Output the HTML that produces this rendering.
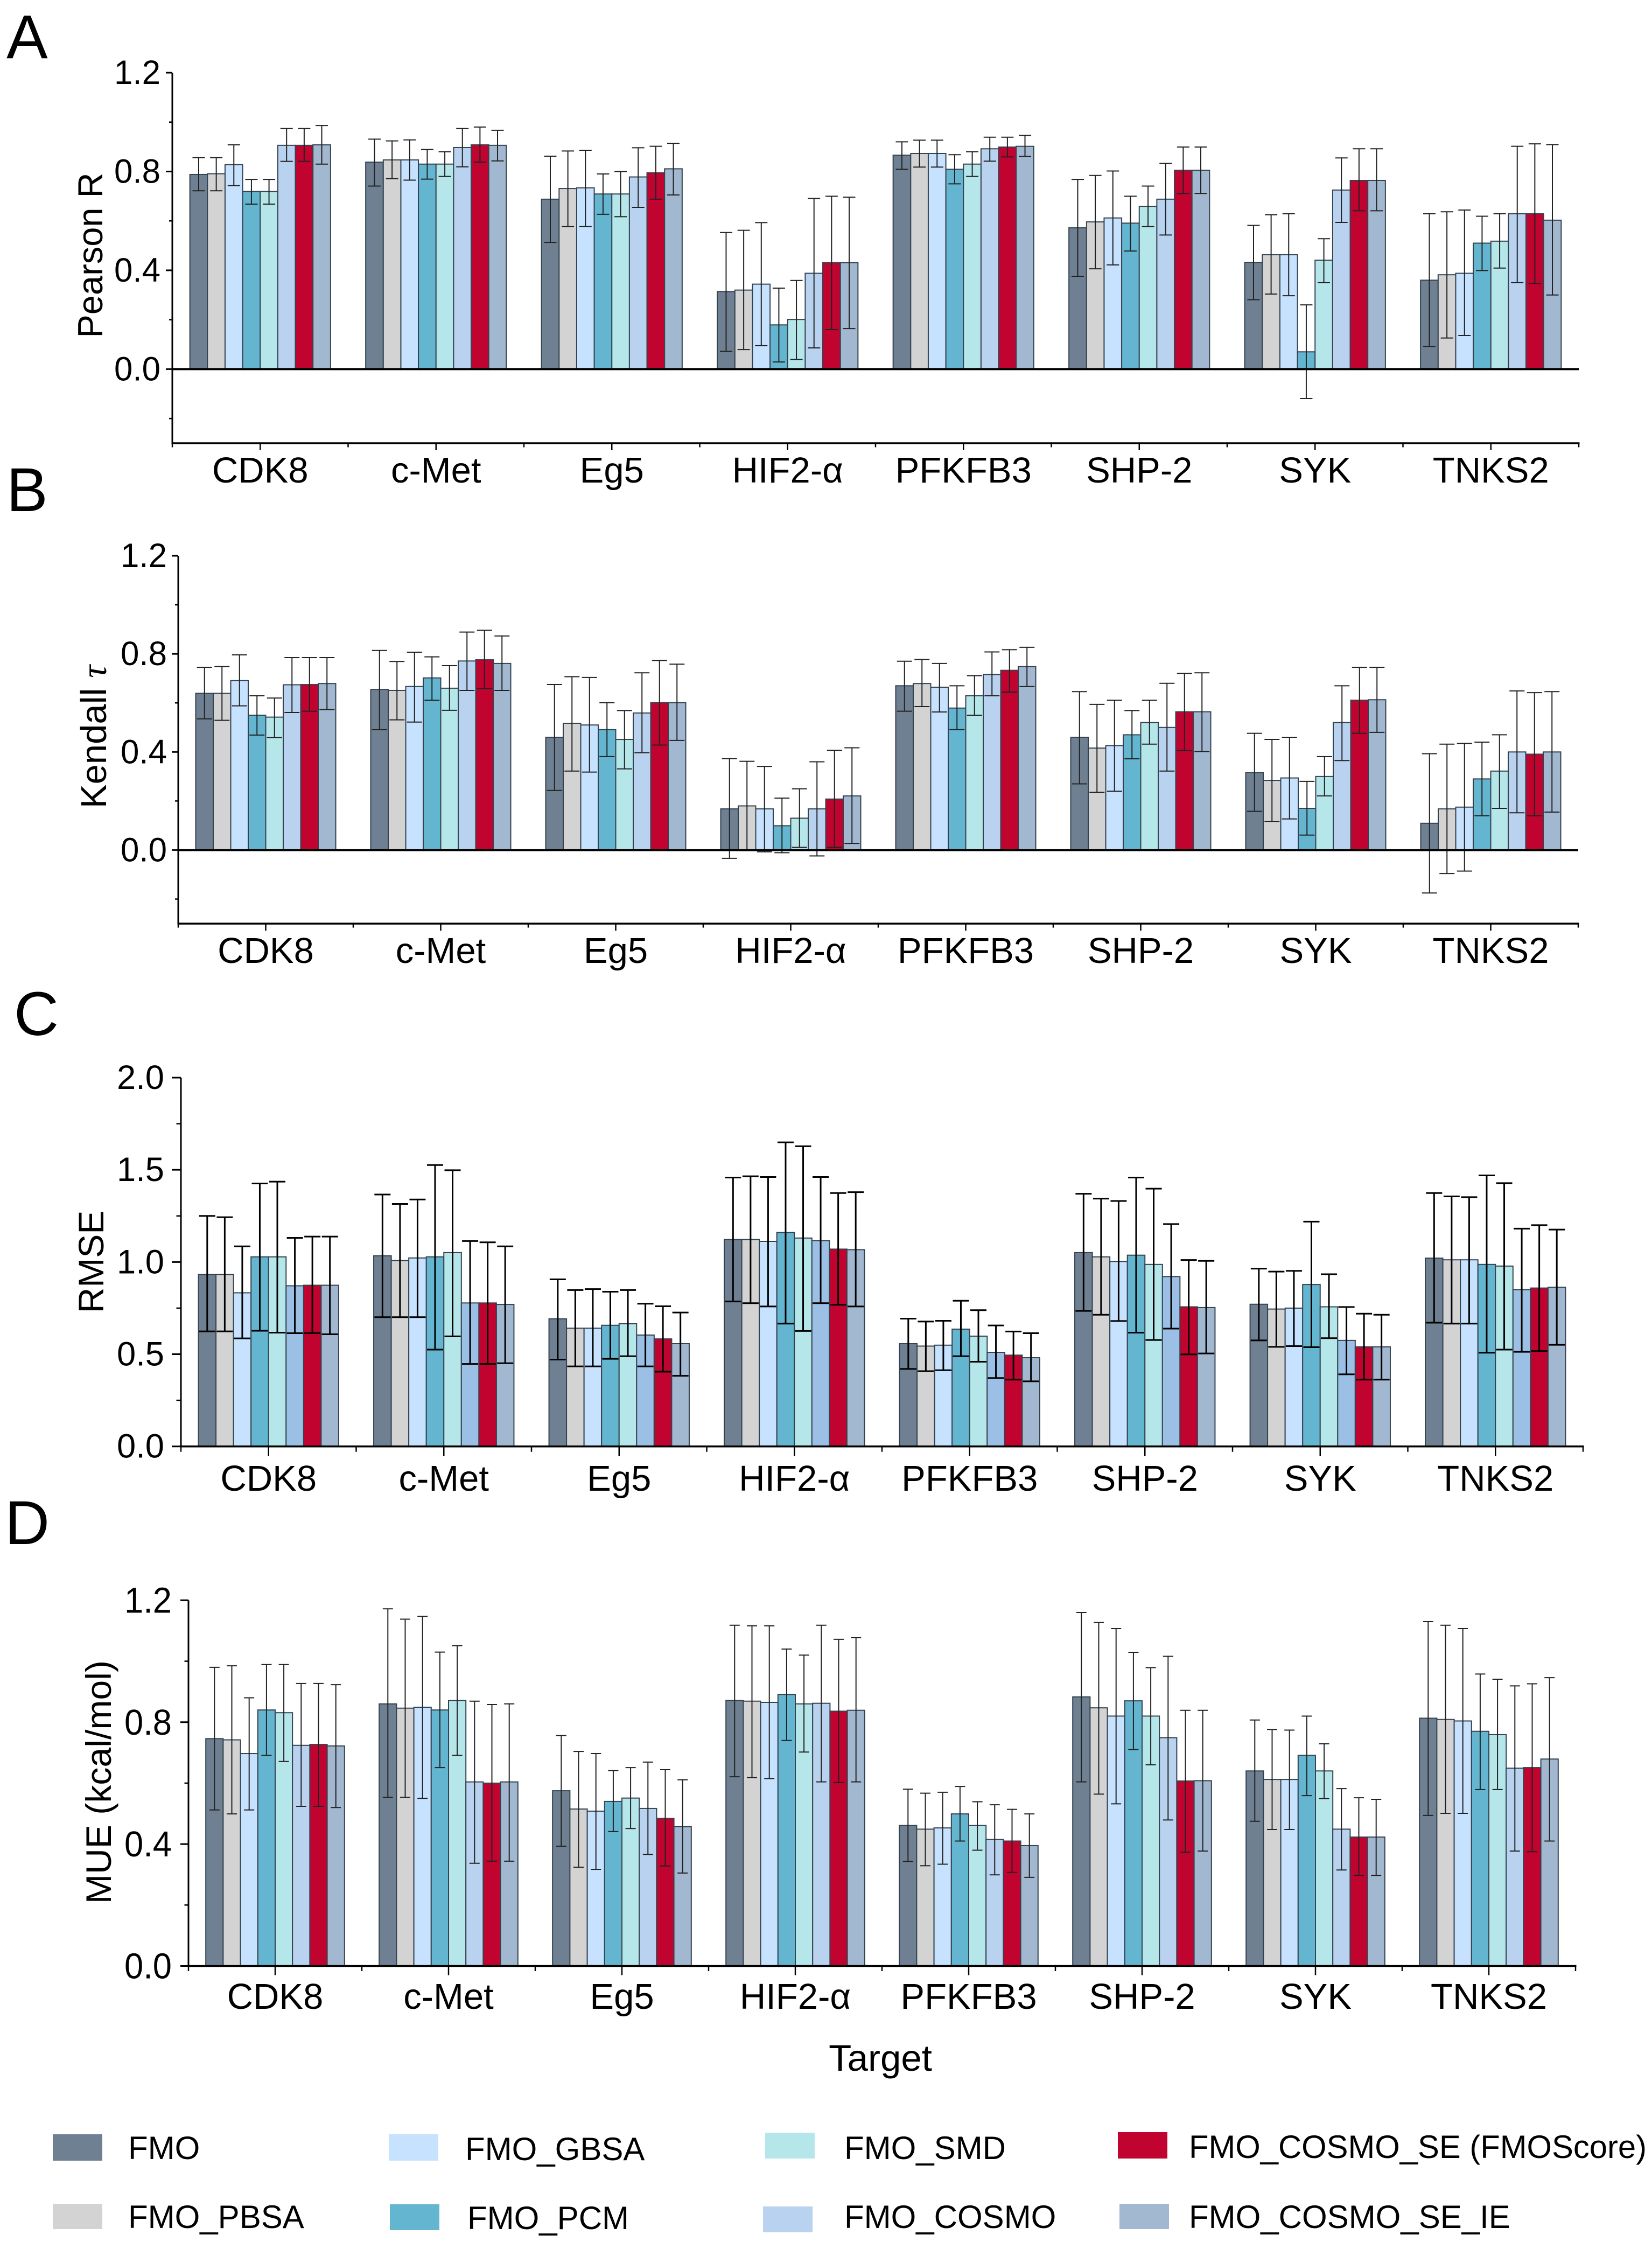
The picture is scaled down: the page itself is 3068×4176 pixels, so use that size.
<!DOCTYPE html>
<html lang="en">
<head>
<meta charset="utf-8">
<title>FMO scoring performance by target</title>
<style>
html,body{margin:0;padding:0;background:#fff;}
svg{display:block;}
text{font-family:"Liberation Sans",sans-serif;fill:#000;}
</style>
</head>
<body>
<svg id="figure" xmlns="http://www.w3.org/2000/svg" width="3068" height="4176" viewBox="0 0 3068 4176">
<rect x="0" y="0" width="3068" height="4176" fill="#ffffff"/>
<g id="panels"></g>
<text x="1635" y="3845" font-size="69" text-anchor="middle">Target</text>
<g>
<g><rect x="98" y="3963" width="92" height="49" fill="#6f8092"/><text x="238" y="4009" font-size="60">FMO</text></g>
<g><rect x="98" y="4092" width="92" height="47" fill="#d3d3d3"/><text x="238" y="4137" font-size="60">FMO_PBSA</text></g>
<g><rect x="722" y="3963" width="92" height="49" fill="#c6e2ff"/><text x="864" y="4011" font-size="60">FMO_GBSA</text></g>
<g><rect x="724" y="4093" width="92" height="48" fill="#63b5d0"/><text x="868" y="4139" font-size="60">FMO_PCM</text></g>
<g><rect x="1421" y="3960" width="92" height="48" fill="#b5e6ea"/><text x="1568" y="4009" font-size="60">FMO_SMD</text></g>
<g><rect x="1417" y="4097" width="92" height="48" fill="#b8d2ef"/><text x="1568" y="4137" font-size="60">FMO_COSMO</text></g>
<g><rect x="2076" y="3959" width="92" height="49" fill="#c10330"/><text x="2208" y="4007" font-size="60" textLength="850" lengthAdjust="spacingAndGlyphs">FMO_COSMO_SE (FMOScore)</text></g>
<g><rect x="2079" y="4092" width="92" height="47" fill="#a2b7d0"/><text x="2208" y="4137" font-size="60">FMO_COSMO_SE_IE</text></g>
</g>
</svg>
<script>
const categories = ['CDK8','c-Met','Eg5','HIF2-α','PFKFB3','SHP-2','SYK','TNKS2'];
const seriesNames = ['FMO','FMO_PBSA','FMO_GBSA','FMO_PCM','FMO_SMD','FMO_COSMO','FMO_COSMO_SE','FMO_COSMO_SE_IE'];

const pearsonMean = [
[.788,.791,.828,.719,.719,.906,.906,.908],
[.838,.847,.847,.830,.830,.897,.908,.906],
[.688,.731,.734,.709,.709,.778,.795,.811],
[.314,.320,.344,.179,.201,.388,.431,.431],
[.866,.873,.873,.809,.830,.892,.899,.902],
[.572,.596,.612,.591,.659,.688,.805,.805],
[.432,.463,.463,.070,.441,.725,.764,.764],
[.360,.382,.388,.510,.518,.629,.629,.603]];
const pearsonUpper = [
[.856,.856,.908,.768,.768,.974,.974,.986],
[.931,.924,.928,.889,.880,.974,.980,.967],
[.862,.883,.886,.790,.800,.896,.902,.914],
[.553,.562,.593,.328,.359,.691,.700,.696],
[.920,.927,.927,.868,.880,.939,.939,.946],
[.768,.784,.802,.700,.741,.833,.899,.899],
[.582,.625,.629,.260,.528,.855,.892,.892],
[.629,.637,.644,.619,.629,.902,.912,.909]];
const pearsonLower = [
[.722,.722,.743,.668,.668,.841,.841,.830],
[.741,.771,.765,.769,.780,.819,.838,.843],
[.513,.577,.577,.627,.617,.655,.688,.705],
[.072,.079,.095,.029,.039,.086,.160,.164],
[.809,.818,.818,.750,.780,.842,.859,.861],
[.376,.406,.422,.478,.577,.543,.711,.711],
[.281,.304,.297,-.119,.350,.594,.641,.641],
[.092,.126,.136,.399,.409,.350,.347,.300]];

const kendallMean = [
[.639,.639,.691,.550,.542,.674,.675,.679],
[.655,.651,.667,.702,.660,.771,.776,.761],
[.460,.517,.510,.491,.451,.559,.601,.601],
[.168,.180,.168,.099,.130,.168,.208,.221],
[.670,.679,.664,.579,.629,.716,.733,.748],
[.460,.416,.426,.470,.520,.500,.564,.564],
[.316,.284,.294,.170,.300,.520,.611,.613],
[.109,.168,.175,.290,.322,.400,.391,.400]];
const kendallUpper = [
[.745,.748,.796,.629,.620,.785,.785,.785],
[.814,.769,.807,.788,.752,.889,.896,.873],
[.675,.707,.704,.601,.569,.723,.773,.758],
[.373,.362,.341,.212,.250,.360,.407,.417],
[.770,.777,.761,.670,.711,.808,.817,.827],
[.646,.594,.611,.569,.611,.680,.720,.723],
[.476,.451,.460,.280,.381,.670,.745,.745],
[.393,.432,.435,.440,.470,.649,.642,.646]];
const kendallLower = [
[.535,.529,.588,.469,.459,.561,.566,.573],
[.491,.531,.522,.611,.570,.651,.658,.651],
[.243,.322,.318,.381,.331,.397,.428,.447],
[-.034,-.002,-.007,-.011,.011,-.024,.011,.027],
[.566,.585,.563,.491,.550,.629,.644,.667],
[.270,.236,.240,.372,.432,.322,.406,.402],
[.158,.117,.127,.061,.221,.365,.476,.480],
[-.175,-.096,-.086,.140,.170,.152,.140,.155]];

const rmseMean = [
[.932,.932,.833,1.028,1.028,.871,.874,.874],
[1.034,1.008,1.022,1.028,1.051,.778,.778,.770],
[.692,.641,.641,.657,.665,.604,.583,.557],
[1.122,1.122,1.112,1.160,1.130,1.116,1.070,1.067],
[.557,.544,.549,.636,.598,.510,.495,.481],
[1.051,1.028,1.003,1.037,.987,.921,.757,.753],
[.771,.745,.750,.878,.757,.575,.540,.540],
[1.021,1.012,1.012,.987,.978,.850,.859,.863]];
const rmseUpper = [
[1.250,1.243,1.085,1.426,1.436,1.131,1.138,1.138],
[1.366,1.315,1.339,1.526,1.498,1.114,1.107,1.085],
[.906,.848,.853,.839,.848,.774,.760,.726],
[1.458,1.465,1.461,1.649,1.628,1.461,1.374,1.379],
[.693,.677,.681,.790,.739,.656,.623,.614],
[1.370,1.344,1.331,1.458,1.398,1.206,1.011,1.006],
[.964,.948,.952,1.219,.934,.756,.720,.714],
[1.374,1.356,1.352,1.470,1.428,1.181,1.200,1.176]];
const rmseLower = [
[.624,.624,.586,.627,.617,.614,.614,.608],
[.701,.701,.701,.525,.597,.447,.447,.451],
[.471,.434,.434,.475,.489,.434,.405,.383],
[.786,.777,.759,.666,.626,.777,.768,.759],
[.420,.408,.413,.489,.459,.371,.362,.353],
[.735,.714,.680,.617,.577,.639,.499,.504],
[.575,.540,.544,.538,.587,.391,.362,.362],
[.671,.666,.666,.508,.525,.513,.517,.551]];

const mueMean = [
[.746,.742,.697,.840,.831,.724,.727,.722],
[.860,.846,.849,.840,.871,.604,.600,.604],
[.575,.515,.508,.540,.551,.517,.484,.457],
[.871,.869,.865,.891,.860,.862,.836,.839],
[.461,.449,.453,.499,.461,.415,.410,.395],
[.883,.847,.820,.870,.820,.749,.607,.608],
[.640,.612,.612,.691,.640,.449,.423,.423],
[.813,.809,.804,.770,.759,.649,.651,.679]];
const mueUpper = [
[.980,.985,.880,.989,.989,.927,.927,.923],
[1.172,1.138,1.147,1.030,1.051,.869,.858,.860],
[.756,.704,.697,.641,.651,.669,.644,.611],
[1.118,1.116,1.116,1.040,1.020,1.118,1.072,1.077],
[.580,.567,.570,.589,.539,.529,.514,.499],
[1.160,1.127,1.107,1.029,.979,1.016,.839,.839],
[.807,.776,.774,.820,.729,.582,.552,.547],
[1.130,1.118,1.107,.958,.941,.919,.926,.946]];
const mueLower = [
[.512,.499,.512,.691,.671,.524,.524,.520],
[.553,.553,.550,.651,.691,.337,.344,.344],
[.393,.324,.317,.441,.451,.366,.328,.305],
[.621,.618,.615,.740,.702,.604,.602,.604],
[.343,.329,.334,.410,.380,.299,.307,.291],
[.604,.564,.532,.710,.660,.479,.373,.377],
[.475,.448,.448,.559,.549,.315,.297,.297],
[.494,.501,.501,.579,.579,.377,.375,.410]];

const corrTicks = [0,0.4,0.8,1.2];
const corrTickLabels = ['0.0','0.4','0.8','1.2'];
const corrMinorTicks = [-0.2,0.2,0.6,1.0];
const rmseTicks = [0,0.5,1.0,1.5,2.0];
const rmseTickLabels = ['0.0','0.5','1.0','1.5','2.0'];
const rmseMinorTicks = [0.25,0.75,1.25,1.75];
const mueTicks = [0,0.4,0.8,1.2];
const mueTickLabels = ['0.0','0.4','0.8','1.2'];
const mueMinorTicks = [0.2,0.6,1.0];

const SVGNS = 'http://www.w3.org/2000/svg';
const barColors = ['#6f8092','#d3d3d3','#c6e2ff','#63b5d0','#b5e6ea','#b8d2ef','#c10330','#a2b7d0'];
const root = document.getElementById('panels');

function make(tag, attrs, parent) {
  const el = document.createElementNS(SVGNS, tag);
  for (const k in attrs) el.setAttribute(k, attrs[k]);
  parent.appendChild(el);
  return el;
}
function slug(s) {
  return s.toLowerCase().replace(/[^a-z0-9]+/g, '-');
}

function drawPanel(p) {
  const g = make('g', {}, root);
  
  

  const domain = p.domain, range = p.range;
  const y = v => range[0] + (v - domain[0]) / (domain[1] - domain[0]) * (range[1] - range[0]);
  const catCount = categories.length;
  const x = i => p.x0 + i * p.catW;
  const barW = p.catW * 0.8 / seriesNames.length;
  const barX = (c, s) => x(c) + p.catW * 0.1 + s * barW;
  const colors = barColors.slice();
  if (p.cosmoColor) colors[5] = p.cosmoColor;

  const letter = make('text', {x: p.letterX, y: p.letterY, 'font-size': 115}, g);
  letter.textContent = p.id;
  
  

  p.mean.forEach((row, c) => {
    row.forEach((v, s) => {
      const top = Math.min(y(v), y(0));
      const bar = make('rect', {x: barX(c, s), y: top, width: barW, height: Math.abs(y(v) - y(0)), fill: colors[s], stroke: '#35434f', 'stroke-width': 2}, g);
      
      
    });
  });

  p.mean.forEach((row, c) => {
    row.forEach((v, s) => {
      const cx = barX(c, s) + barW / 2;
      const yu = y(p.upper[c][s]), yl = y(p.lower[c][s]);
      const d = 'M' + cx + ' ' + yu + 'V' + yl +
        'M' + (cx - p.cap / 2) + ' ' + yu + 'h' + p.cap +
        'M' + (cx - p.cap / 2) + ' ' + yl + 'h' + p.cap;
      const err = make('path', {d: d, fill: 'none', stroke: p.errColor, 'stroke-width': p.errW}, g);
      
      
    });
  });

  const xEnd = x(catCount);
  const yAxis = make('line', {x1: p.x0, x2: p.x0, y1: y(domain[1]), y2: y(domain[0]), stroke: '#000', 'stroke-width': 3}, g);
  
  

  const xAxis = make('line', {x1: p.x0 - 1.5, x2: xEnd + 1.5, y1: y(domain[0]), y2: y(domain[0]), stroke: '#000', 'stroke-width': 3.5}, g);
  
  

  if (domain[0] < 0) {
    const zero = make('line', {x1: p.x0, x2: xEnd, y1: y(0), y2: y(0), stroke: '#000', 'stroke-width': 4}, g);
    
    
  }

  p.ticks.forEach((t, i) => {
    const tick = make('line', {x1: p.x0 - p.yTick, x2: p.x0, y1: y(t), y2: y(t), stroke: '#000', 'stroke-width': 3}, g);
    
    
    const label = make('text', {x: p.labelRight, y: y(t) + p.tickShift, 'font-size': p.tickFont, 'text-anchor': 'end', textLength: p.tickLen, lengthAdjust: 'spacingAndGlyphs'}, g);
    label.textContent = p.tickLabels[i];
    
    
  });
  p.minorTicks.forEach(t => {
    const tick = make('line', {x1: p.x0 - p.yTick / 2, x2: p.x0, y1: y(t), y2: y(t), stroke: '#000', 'stroke-width': 2.5}, g);
    
    
  });

  const yb = y(domain[0]);
  for (let i = 0; i <= catCount; i++) {
    const tick = make('line', {x1: x(i), x2: x(i), y1: yb, y2: yb + p.xTick / 2 + 1, stroke: '#000', 'stroke-width': 2.5}, g);
    
    
  }
  categories.forEach((name, i) => {
    const cx = x(i) + p.catW / 2;
    const tick = make('line', {x1: cx, x2: cx, y1: yb, y2: yb + p.xTick, stroke: '#000', 'stroke-width': 2.5}, g);
    
    
    const label = make('text', {x: cx, y: p.catBaseline, 'font-size': 67, 'text-anchor': 'middle'}, g);
    label.textContent = name;
    
    
  });

  const title = make('text', {transform: 'translate(' + p.titleX + ' ' + p.titleY + ') rotate(-90)', 'font-size': p.titleFont, 'text-anchor': 'middle'}, g);
  
  
  if (p.titleLength) title.setAttribute('textLength', p.titleLength);
  title.appendChild(document.createTextNode(p.title));
  if (p.titleSymbol) {
    const sym = make('tspan', {'font-family': '"Liberation Serif", serif', 'font-style': 'italic'}, title);
    sym.textContent = p.titleSymbol;
    
    
  }
}

drawPanel({id:'A', mean:pearsonMean, upper:pearsonUpper, lower:pearsonLower,
  domain:[-0.3,1.2], range:[823,135], x0:320, catW:326.5,
  ticks:corrTicks, tickLabels:corrTickLabels, minorTicks:corrMinorTicks,
  yTick:12, xTick:13, labelRight:298, tickFont:63, tickLen:86, tickShift:21, cap:23, errW:2, errColor:'#222',
  catBaseline:896, title:'Pearson R', titleX:190, titleY:474, titleFont:65,
  letterX:12, letterY:108});

drawPanel({id:'B', mean:kendallMean, upper:kendallUpper, lower:kendallLower,
  domain:[-0.3,1.2], range:[1715,1032], x0:331, catW:325,
  ticks:corrTicks, tickLabels:corrTickLabels, minorTicks:corrMinorTicks,
  yTick:12, xTick:13, labelRight:310, tickFont:63, tickLen:86, tickShift:21, cap:28, errW:2, errColor:'#222',
  catBaseline:1788, title:'Kendall ', titleSymbol:'τ', titleX:197, titleY:1368, titleFont:67,
  letterX:12, letterY:949});

drawPanel({id:'C', mean:rmseMean, upper:rmseUpper, lower:rmseLower,
  domain:[0,2], range:[2685.7,2001], x0:336, catW:325.5,
  ticks:rmseTicks, tickLabels:rmseTickLabels, minorTicks:rmseMinorTicks,
  yTick:17, xTick:18, labelRight:305, tickFont:63, tickLen:88, tickShift:21, cap:30, errW:3, errColor:'#000', cosmoColor:'#9cc0e5',
  catBaseline:2768, title:'RMSE', titleX:192, titleY:2343, titleFont:66,
  letterX:26, letterY:1922});

drawPanel({id:'D', mean:mueMean, upper:mueUpper, lower:mueLower,
  domain:[0,1.2], range:[3650.5,2971.4], x0:350, catW:322,
  ticks:mueTicks, tickLabels:mueTickLabels, minorTicks:mueMinorTicks,
  yTick:15, xTick:17, labelRight:319, tickFont:67, tickLen:88, tickShift:23, cap:19, errW:2, errColor:'#222',
  catBaseline:3730, title:'MUE (kcal/mol)', titleLength:452, titleX:206, titleY:3309, titleFont:66,
  letterX:9, letterY:2867});
</script>
</body>
</html>
